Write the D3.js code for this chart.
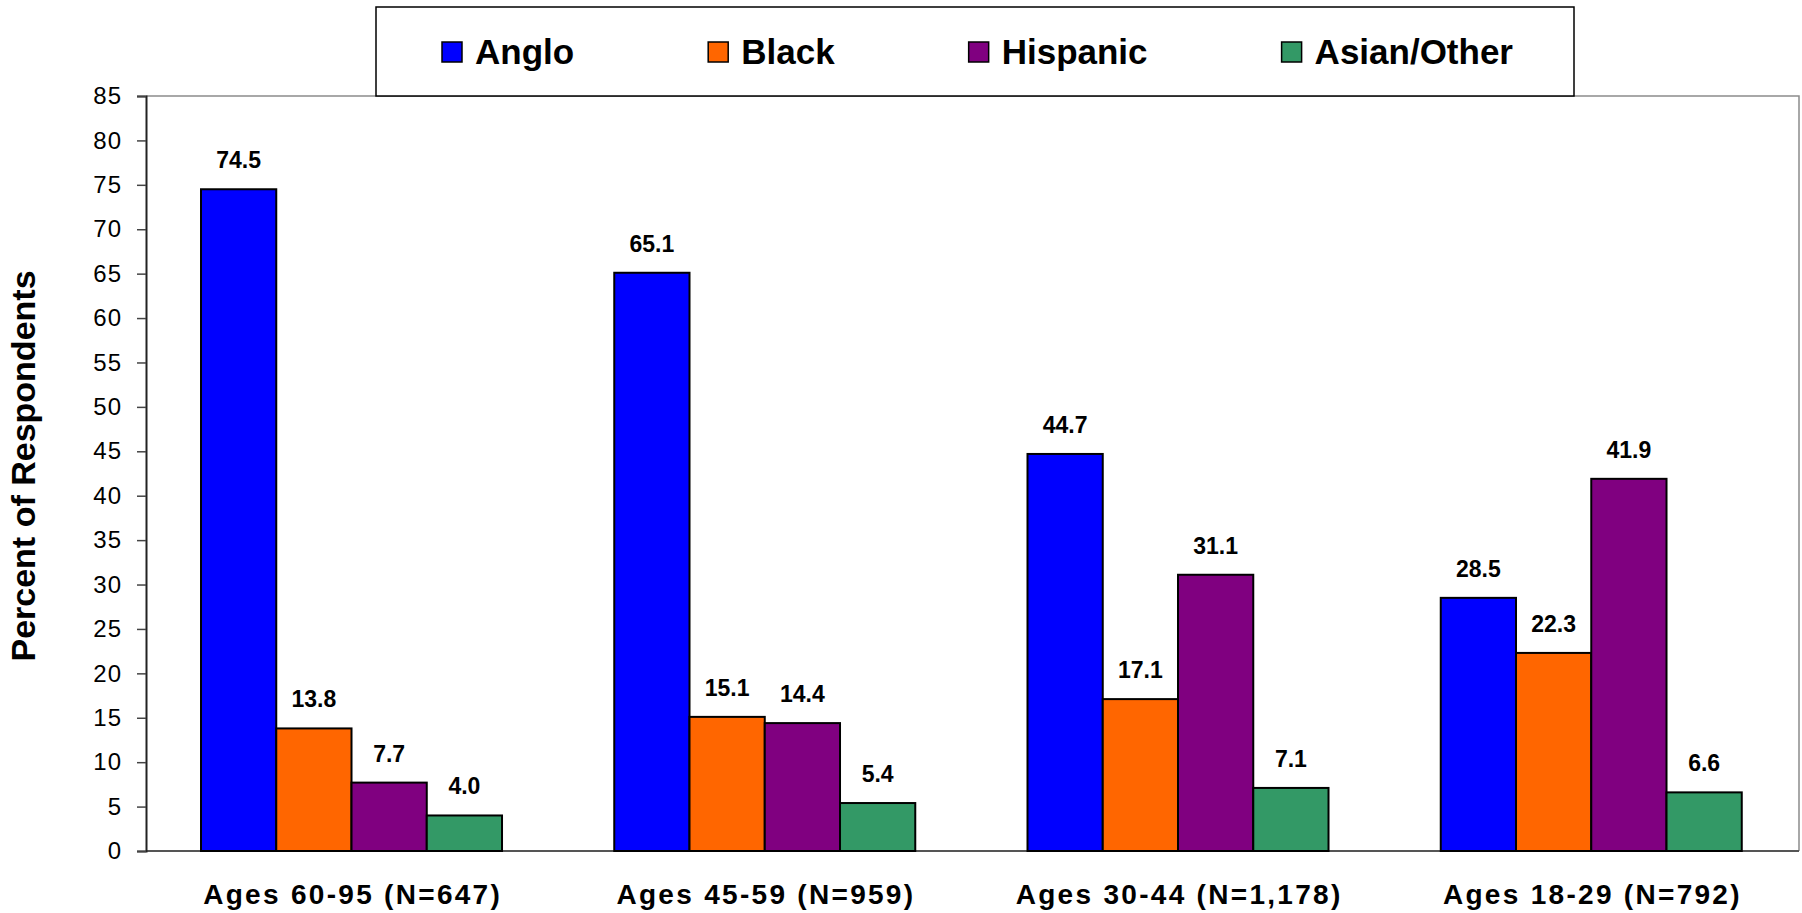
<!DOCTYPE html>
<html>
<head>
<meta charset="utf-8">
<script src="https://cdn.jsdelivr.net/npm/d3@7"></script>
<style>
  html, body { margin: 0; padding: 0; background: #fff; }
  svg { display: block; font-family: "Liberation Sans", Arial, Helvetica, sans-serif; }
</style>
</head>
<body>
<svg id="chart" width="1802" height="913"></svg>
<script>
// Age groups along the x axis
const categories = ["Ages 60-95 (N=647)", "Ages 45-59 (N=959)", "Ages 30-44 (N=1,178)", "Ages 18-29 (N=792)"];
// Ethnic groups (one bar per group within each age band)
const seriesNames = ["Anglo", "Black", "Hispanic", "Asian/Other"];
const seriesColors = ["#0000FF", "#FF6600", "#800080", "#339966"];
// Percent of respondents, by series, one value per age group
const anglo    = [74.5, 65.1, 44.7, 28.5];
const black    = [13.8, 15.1, 17.1, 22.3];
const hispanic = [7.7, 14.4, 31.1, 41.9];
const asian    = [4.0, 5.4, 7.1, 6.6];
const yTicks   = [0, 5, 10, 15, 20, 25, 30, 35, 40, 45, 50, 55, 60, 65, 70, 75, 80, 85];
const yLabel   = "Percent of Respondents";

const seriesValues = [anglo, black, hispanic, asian];
const rows = categories.map((c, i) => ({
  category: c,
  values: seriesNames.map((s, k) => ({ series: s, value: seriesValues[k][i], color: seriesColors[k] }))
}));

const svg = d3.select("#chart");
const plot = { left: 146, right: 1799, top: 96, bottom: 851 };

const y = d3.scaleLinear().domain([0, 85]).range([plot.bottom, plot.top]);
const x0 = d3.scaleBand().domain(categories).range([plot.left, plot.right]).padding(0);
const bw = x0.bandwidth();
const x1 = d3.scaleBand().domain(seriesNames).range([bw * 0.1331, bw * 0.8615]).padding(0);

// Plot frame: top and right edges in grey
svg.append("path")
  .attr("d", `M${plot.left},${plot.top}H${plot.right}V${plot.bottom}`)
  .attr("fill", "none").attr("stroke", "#8c8c8c").attr("stroke-width", 1.5);

// X baseline
svg.append("line")
  .attr("x1", plot.left).attr("x2", plot.right)
  .attr("y1", y(0)).attr("y2", y(0))
  .attr("stroke", "#555").attr("stroke-width", 2);

// Bars
const groups = svg.append("g").selectAll("g").data(rows).join("g")
  .attr("transform", d => `translate(${x0(d.category)},0)`);

groups.selectAll("rect").data(d => d.values).join("rect")
  .attr("x", d => x1(d.series))
  .attr("width", x1.bandwidth())
  .attr("y", d => y(d.value))
  .attr("height", d => y(0) - y(d.value))
  .attr("fill", d => d.color)
  .attr("stroke", "#000").attr("stroke-width", 2);

// Value labels above bars
groups.selectAll("text").data(d => d.values).join("text")
  .attr("x", d => x1(d.series) + x1.bandwidth() / 2)
  .attr("y", d => y(d.value) - 21)
  .attr("text-anchor", "middle")
  .attr("font-size", 23).attr("font-weight", "bold").attr("fill", "#000")
  .text(d => d.value.toFixed(1));

// Y axis
const yAxis = svg.append("g")
  .attr("transform", `translate(${plot.left},0)`)
  .call(d3.axisLeft(y).tickValues(yTicks).tickSize(9).tickPadding(15).tickFormat(d3.format("d")));
yAxis.select(".domain").attr("stroke", "#222").attr("stroke-width", 2);
yAxis.selectAll(".tick line").attr("stroke", "#444").attr("stroke-width", 1.5);
yAxis.selectAll(".tick text")
  .attr("font-size", 24).attr("fill", "#000")
  .attr("font-family", "'Liberation Sans', Arial, sans-serif")
  .style("letter-spacing", "1px");

// X axis category labels
const xAxis = svg.append("g")
  .attr("transform", `translate(0,${plot.bottom})`)
  .call(d3.axisBottom(x0).tickSize(0).tickPadding(0));
xAxis.select(".domain").remove();
xAxis.selectAll(".tick text")
  .attr("y", 53).attr("dy", 0)
  .attr("font-size", 28).attr("font-weight", "bold").attr("fill", "#000")
  .attr("font-family", "'Liberation Sans', Arial, sans-serif")
  .style("letter-spacing", "2.3px");

// Y axis title
svg.append("text")
  .attr("transform", `translate(35,466) rotate(-90)`)
  .attr("text-anchor", "middle")
  .attr("font-size", 34).attr("font-weight", "bold").attr("fill", "#000")
  .text(yLabel);

// Legend box
const legend = { left: 376, right: 1574, top: 7, bottom: 96 };
svg.append("rect")
  .attr("x", legend.left).attr("y", legend.top)
  .attr("width", legend.right - legend.left).attr("height", legend.bottom - legend.top)
  .attr("fill", "#fff").attr("stroke", "#000").attr("stroke-width", 1.5);

const lg = svg.append("g");
const items = lg.selectAll("g").data(seriesNames).join("g");
items.append("rect")
  .attr("width", 20).attr("height", 20).attr("y", 42)
  .attr("fill", (d, i) => seriesColors[i])
  .attr("stroke", "#000").attr("stroke-width", 1.5);
items.append("text")
  .attr("x", 33).attr("y", 64)
  .attr("font-size", 35).attr("font-weight", "bold").attr("fill", "#000")
  .text(d => d);

// Lay legend entries out left to right with equal gaps between them
const startX = 442, endX = 1513;
const widths = [];
items.each(function () { widths.push(33 + d3.select(this).select("text").node().getComputedTextLength()); });
const gap = (endX - startX - d3.sum(widths)) / (widths.length - 1);
let cx = startX;
items.each(function (d, i) {
  d3.select(this).attr("transform", `translate(${cx},0)`);
  cx += widths[i] + gap;
});
</script>
</body>
</html>
